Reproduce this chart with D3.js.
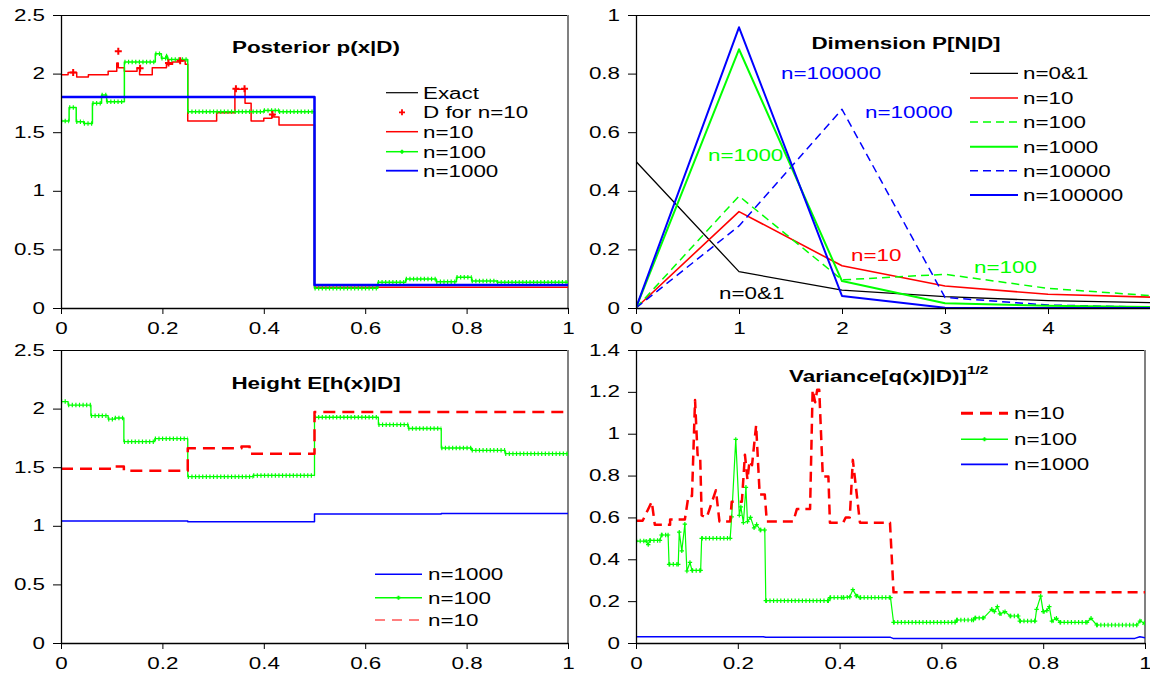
<!DOCTYPE html>
<html><head><meta charset="utf-8">
<script src="https://cdn.jsdelivr.net/npm/d3@7"></script>
<style>body{margin:0;background:#fff}</style>
</head><body><svg id="c" width="1150" height="680"></svg>
<script>
// ---------- DATA ----------
// Posterior p(x|D) (step functions: value holds from x[i] to x[i+1])
const postExactX = [0, 0.5, 1];
const postExactY = [1.8, 0.2, 0.2];
const postN1000X = [0, 0.5, 1];
const postN1000Y = [1.8, 0.196, 0.196];
const postN10X = [0, 0.014, 0.031, 0.054, 0.093, 0.11, 0.113, 0.125, 0.15, 0.155, 0.18, 0.208, 0.22, 0.235, 0.245, 0.25, 0.307, 0.343, 0.363, 0.375, 0.40, 0.416, 0.42, 0.43, 0.5, 1];
const postN10Y = [1.99, 2.01, 1.97, 1.99, 2.02, 2.09, 2.05, 2.02, 2.05, 1.99, 2.05, 2.08, 2.10, 2.11, 2.08, 1.595, 1.667, 1.866, 1.747, 1.595, 1.62, 1.65, 1.63, 1.561, 0.177, 0.177];
const postN100X = [0, 0.016, 0.03, 0.045, 0.062, 0.08, 0.09, 0.125, 0.186, 0.198, 0.207, 0.21, 0.25, 0.40, 0.43, 0.5, 0.625, 0.68, 0.74, 0.78, 0.81, 0.86, 1];
const postN100Y = [1.595, 1.71, 1.59, 1.575, 1.747, 1.817, 1.76, 2.10, 2.17, 2.13, 2.15, 2.12, 1.675, 1.685, 1.675, 0.168, 0.22, 0.247, 0.225, 0.262, 0.23, 0.22, 0.22];
const dataN10X = [0.024, 0.113, 0.156, 0.212, 0.235, 0.345, 0.362, 0.417];
const dataN10Y = [2.01, 2.19, 2.045, 2.09, 2.11, 1.87, 1.87, 1.65];

// Dimension P[N|D]
const dimN = [0, 1, 2, 3, 4, 5];
const dimN01 = [0.5, 0.124, 0.061, 0.039, 0.025, 0.018];
const dimN10 = [0, 0.329, 0.144, 0.075, 0.047, 0.037];
const dimN100 = [0, 0.382, 0.096, 0.115, 0.067, 0.042];
const dimN1000 = [0, 0.883, 0.092, 0.016, 0.008, 0.003];
const dimN10000 = [0, 0.28, 0.678, 0.036, 0.01, 0.003];
const dimN100000 = [0, 0.958, 0.041, 0.001, 0, 0];

// Height E[h(x)|D] (step functions)
const hN1000X = [0, 0.25, 0.5, 0.75, 1];
const hN1000Y = [1.04, 1.035, 1.10, 1.105, 1.105];
const hN100X = [0, 0.014, 0.059, 0.093, 0.106, 0.124, 0.185, 0.25, 0.379, 0.5, 0.626, 0.685, 0.75, 0.81, 0.876, 1];
const hN100Y = [2.06, 2.03, 1.94, 1.91, 1.92, 1.718, 1.743, 1.419, 1.43, 1.926, 1.863, 1.83, 1.664, 1.644, 1.615, 1.615];
const hN10X = [0, 0.106, 0.124, 0.25, 0.356, 0.372, 0.5, 1];
const hN10Y = [1.487, 1.507, 1.47, 1.661, 1.676, 1.615, 1.971, 1.971];

// Variance[q(x)|D]^(1/2) (polylines)
const vN10X = [0, 0.013, 0.031, 0.037, 0.067, 0.067, 0.096, 0.103, 0.11, 0.116, 0.121, 0.126, 0.129, 0.139, 0.157, 0.164, 0.185, 0.188, 0.208, 0.214, 0.219, 0.223, 0.228, 0.236, 0.243, 0.253, 0.257, 0.309, 0.316, 0.342, 0.347, 0.352, 0.356, 0.36, 0.367, 0.378, 0.381, 0.407, 0.412, 0.42, 0.426, 0.44, 0.499, 0.506, 1];
const vN10Y = [0.584, 0.584, 0.675, 0.565, 0.565, 0.59, 0.59, 0.702, 0.702, 1.161, 0.898, 0.898, 0.61, 0.6, 0.73, 0.58, 0.58, 0.675, 0.675, 0.9, 0.78, 0.87, 0.85, 1.04, 0.71, 0.71, 0.58, 0.58, 0.64, 0.64, 1.21, 1.15, 1.21, 1.21, 0.795, 0.795, 0.575, 0.575, 0.6, 0.6, 0.875, 0.575, 0.575, 0.242, 0.242];
const vN100X = [0, 0.02, 0.024, 0.027, 0.047, 0.05, 0.063, 0.065, 0.083, 0.085, 0.09, 0.096, 0.1, 0.106, 0.11, 0.127, 0.129, 0.185, 0.188, 0.196, 0.203, 0.206, 0.211, 0.216, 0.219, 0.225, 0.232, 0.237, 0.244, 0.253, 0.255, 0.378, 0.381, 0.407, 0.42, 0.426, 0.433, 0.44, 0.5, 0.506, 0.627, 0.63, 0.663, 0.666, 0.683, 0.699, 0.704, 0.71, 0.715, 0.725, 0.735, 0.751, 0.754, 0.784, 0.787, 0.795, 0.8, 0.807, 0.812, 0.817, 0.826, 0.833, 0.886, 0.894, 0.905, 0.984, 0.99, 1];
const vN100Y = [0.487, 0.487, 0.47, 0.49, 0.49, 0.516, 0.516, 0.376, 0.376, 0.53, 0.44, 0.568, 0.344, 0.385, 0.347, 0.347, 0.5, 0.5, 0.603, 0.973, 0.61, 0.65, 0.575, 0.744, 0.58, 0.6, 0.55, 0.566, 0.54, 0.54, 0.202, 0.202, 0.217, 0.217, 0.22, 0.255, 0.225, 0.217, 0.217, 0.099, 0.099, 0.11, 0.11, 0.12, 0.12, 0.161, 0.15, 0.174, 0.139, 0.15, 0.129, 0.129, 0.105, 0.105, 0.161, 0.224, 0.15, 0.155, 0.174, 0.105, 0.118, 0.099, 0.099, 0.118, 0.086, 0.086, 0.105, 0.093];
const vN1000X = [0, 0.25, 0.255, 0.5, 0.505, 0.98, 0.99, 1];
const vN1000Y = [0.03, 0.03, 0.027, 0.027, 0.022, 0.022, 0.03, 0.025];

// Tick values
const xTicksUnit = [0, 0.2, 0.4, 0.6, 0.8, 1];
const xTicksDim = [0, 1, 2, 3, 4];
const yTicksPost = [0, 0.5, 1, 1.5, 2, 2.5];
const yTicksDim = [0, 0.2, 0.4, 0.6, 0.8, 1];
const yTicksVar = [0, 0.2, 0.4, 0.6, 0.8, 1, 1.2, 1.4];

// ---------- DRAWING ----------
const RED = "#ff0000", GREEN = "#00ff00", BLUE = "#0000ff", BLACK = "#000000";
const FONT = "'Liberation Sans', Arial, Helvetica, sans-serif";
const SX = 1.4;
const svg = d3.select("#c");

function label(g, x, y, str, o = {}) {
  return g.append("text")
    .attr("transform", `translate(${x},${y}) scale(${SX},1)`)
    .attr("font-family", FONT).attr("font-size", o.size || 16)
    .attr("font-weight", o.weight || "normal")
    .attr("fill", o.fill || "#000")
    .attr("text-anchor", o.anchor || "start")
    .text(str);
}

function makePanel(id, box, xDomain, yDomain, xTicks, yTicks) {
  const x = d3.scaleLinear().domain(xDomain).range([box.x0, box.x1]);
  const y = d3.scaleLinear().domain(yDomain).range([box.y1, box.y0]);
  const g = svg.append("g");
  svg.append("clipPath").attr("id", id).append("rect")
    .attr("x", box.x0).attr("y", box.y0 - 2)
    .attr("width", box.x1 - box.x0).attr("height", box.y1 - box.y0 + 4);
  g.append("line").attr("x1", box.x0).attr("x2", Math.min(box.x1, 1150)).attr("y1", box.y0 + 0.5).attr("y2", box.y0 + 0.5)
    .attr("stroke", "#000").attr("stroke-width", 1);
  g.append("line").attr("x1", box.x1).attr("x2", box.x1).attr("y1", box.y0).attr("y2", box.y1)
    .attr("stroke", "#808080").attr("stroke-width", 2);
  const fmt = d => String(+d.toFixed(1));
  const plot = g.append("g").attr("clip-path", `url(#${id})`);
  const ax = g.append("g").attr("transform", `translate(${box.x0},0)`)
    .call(d3.axisLeft(y).tickValues(yTicks).tickFormat(fmt).tickSize(8).tickSizeOuter(0).tickPadding(8));
  const bx = g.append("g").attr("transform", `translate(0,${box.y1})`)
    .call(d3.axisBottom(x).tickValues(xTicks).tickFormat(fmt).tickSize(6).tickSizeOuter(0).tickPadding(9));
  [ax, bx].forEach(a => {
    a.select(".domain").attr("stroke", "#000").attr("stroke-width", 1.3);
    a.selectAll(".tick line").attr("stroke", "#000");
    a.selectAll("text").attr("font-family", FONT).attr("font-size", 16).attr("fill", "#000")
      .attr("transform", `scale(${SX},1)`)
      .attr("x", function () { const v = d3.select(this).attr("x"); return v == null ? null : +v / SX; });
  });
  return { x, y, g, plot };
}

function plus(g, cx, cy, size, color, w) {
  g.append("path").attr("d", `M${cx - size},${cy}H${cx + size}M${cx},${cy - size}V${cy + size}`)
    .attr("stroke", color).attr("stroke-width", w || 2).attr("fill", "none");
}

function drawLine(p, xs, ys, o) {
  const pts = xs.map((v, i) => [v, ys[i]]);
  const step = o.curve === d3.curveStepAfter;
  const line = d3.line().x(d => p.x(d[0])).y(d => p.y(d[1])).curve(o.curve || d3.curveLinear);
  p.plot.append("path").attr("d", line(pts)).attr("fill", "none")
    .attr("stroke", o.stroke).attr("stroke-width", o.width || 1.5)
    .attr("stroke-dasharray", o.dash || null).attr("stroke-linejoin", "round");
  if (o.markers) {
    // dense "+" markers along the flat parts, thin plain line on the steep parts
    let d = "";
    for (let i = 0; i < pts.length - 1; i++) {
      const x1 = p.x(pts[i][0]), x2 = p.x(pts[i + 1][0]);
      const y1 = p.y(pts[i][1]), y2 = step ? y1 : p.y(pts[i + 1][1]);
      if (x2 - x1 > 0.5 && Math.abs(y2 - y1) < 0.6 * (x2 - x1)) d += `M${x1},${y1}L${x2},${y2}`;
    }
    p.plot.append("path").attr("d", d).attr("fill", "none")
      .attr("stroke", o.stroke).attr("stroke-width", 4.5).attr("stroke-dasharray", "1.2,2.4");
    if (!step) pts.forEach(q => plus(p.plot, p.x(q[0]), p.y(q[1]), 2.2, o.stroke, 1.2));
  }
}

function legendRow(g, lx1, lx2, tx, cy, text, o) {
  if (!o.noLine) {
    g.append("line").attr("x1", lx1).attr("x2", lx2).attr("y1", cy).attr("y2", cy)
      .attr("stroke", o.stroke).attr("stroke-width", o.width || 1.5).attr("stroke-dasharray", o.dash || null);
  }
  if (o.marker) plus(g, (lx1 + lx2) / 2, cy, o.msize || 2.5, o.stroke, 1.8);
  label(g, tx, cy + 6, text);
}

// ---- Panel 1: Posterior ----
const p1 = makePanel("c1", { x0: 61, x1: 568, y0: 15, y1: 308 }, [0, 1], [0, 2.5], xTicksUnit, yTicksPost);
drawLine(p1, postExactX, postExactY, { stroke: BLACK, width: 1.2, curve: d3.curveStepAfter });
drawLine(p1, postN10X, postN10Y, { stroke: RED, width: 1.5, curve: d3.curveStepAfter });
drawLine(p1, postN100X, postN100Y, { stroke: GREEN, width: 1.5, curve: d3.curveStepAfter, markers: true });
drawLine(p1, postN1000X, postN1000Y, { stroke: BLUE, width: 2.5, curve: d3.curveStepAfter });
dataN10X.forEach((v, i) => plus(p1.plot, p1.x(v), p1.y(dataN10Y[i]), 3.5, RED, 2));
label(p1.g, 316, 53, "Posterior p(x|D)", { weight: "bold", anchor: "middle", size: 16 });
legendRow(p1.g, 386, 418, 423, 92.7, "Exact", { stroke: BLACK, width: 1.2 });
legendRow(p1.g, 386, 418, 423, 112.3, "D for n=10", { stroke: RED, noLine: true, marker: true, msize: 3 });
legendRow(p1.g, 386, 418, 423, 131.7, "n=10", { stroke: RED, width: 1.5 });
legendRow(p1.g, 386, 418, 423, 151.7, "n=100", { stroke: GREEN, width: 1.5, marker: true, msize: 2 });
legendRow(p1.g, 386, 418, 423, 170.7, "n=1000", { stroke: BLUE, width: 1.8 });

// ---- Panel 2: Dimension ----
const p2 = makePanel("c2", { x0: 636, x1: 1151, y0: 15, y1: 308 }, [0, 5], [0, 1], xTicksDim, yTicksDim);
drawLine(p2, dimN, dimN01, { stroke: BLACK, width: 1.3 });
drawLine(p2, dimN, dimN10, { stroke: RED, width: 1.6 });
drawLine(p2, dimN, dimN100, { stroke: GREEN, width: 1.5, dash: "8,5" });
drawLine(p2, dimN, dimN10000, { stroke: BLUE, width: 1.5, dash: "8,5" });
drawLine(p2, dimN, dimN1000, { stroke: GREEN, width: 2 });
drawLine(p2, dimN, dimN100000, { stroke: BLUE, width: 2 });
label(p2.g, 906, 49, "Dimension P[N|D]", { weight: "bold", anchor: "middle" });
label(p2.g, 781, 79, "n=100000", { fill: BLUE });
label(p2.g, 865, 118, "n=10000", { fill: BLUE });
label(p2.g, 708, 161, "n=1000", { fill: GREEN });
label(p2.g, 851, 261, "n=10", { fill: RED });
label(p2.g, 974, 273, "n=100", { fill: GREEN });
label(p2.g, 719, 299, "n=0&1", { fill: BLACK });
legendRow(p2.g, 970, 1018, 1023, 73.3, "n=0&1", { stroke: BLACK, width: 1.3 });
legendRow(p2.g, 970, 1018, 1023, 98, "n=10", { stroke: RED, width: 1.6 });
legendRow(p2.g, 970, 1018, 1023, 122, "n=100", { stroke: GREEN, width: 1.5, dash: "8,5" });
legendRow(p2.g, 970, 1018, 1023, 146.7, "n=1000", { stroke: GREEN, width: 2 });
legendRow(p2.g, 970, 1018, 1023, 170.7, "n=10000", { stroke: BLUE, width: 1.5, dash: "8,5" });
legendRow(p2.g, 970, 1018, 1023, 195, "n=100000", { stroke: BLUE, width: 2 });

// ---- Panel 3: Height ----
const p3 = makePanel("c3", { x0: 61, x1: 568, y0: 350, y1: 643 }, [0, 1], [0, 2.5], xTicksUnit, yTicksPost);
drawLine(p3, hN1000X, hN1000Y, { stroke: BLUE, width: 1.5, curve: d3.curveStepAfter });
drawLine(p3, hN100X, hN100Y, { stroke: GREEN, width: 1.3, curve: d3.curveStepAfter, markers: true });
drawLine(p3, hN10X, hN10Y, { stroke: RED, width: 2.5, dash: "12,7", curve: d3.curveStepAfter });
label(p3.g, 316, 389, "Height E[h(x)|D]", { weight: "bold", anchor: "middle" });
legendRow(p3.g, 375, 422, 428, 574.3, "n=1000", { stroke: BLUE, width: 1.5 });
legendRow(p3.g, 375, 422, 428, 597.7, "n=100", { stroke: GREEN, width: 1.5, marker: true, msize: 2 });
legendRow(p3.g, 375, 422, 428, 620, "n=10", { stroke: RED, width: 1.2, dash: "10,7" });

// ---- Panel 4: Variance ----
const p4 = makePanel("c4", { x0: 636, x1: 1145, y0: 350, y1: 643 }, [0, 1], [0, 1.4], xTicksUnit, yTicksVar);
drawLine(p4, vN1000X, vN1000Y, { stroke: BLUE, width: 1.5 });
drawLine(p4, vN100X, vN100Y, { stroke: GREEN, width: 1.2, markers: true });
drawLine(p4, vN10X, vN10Y, { stroke: RED, width: 2.5, dash: "10,6" });
const vt = label(p4.g, 789, 382, "Variance[q(x)|D)]", { weight: "bold" });
vt.append("tspan").attr("font-size", 11).attr("dy", -8).text("1/2");
legendRow(p4.g, 961, 1008, 1014, 413.3, "n=10", { stroke: RED, width: 3, dash: "12,7" });
legendRow(p4.g, 961, 1008, 1014, 439.3, "n=100", { stroke: GREEN, width: 1.5, marker: true, msize: 2 });
legendRow(p4.g, 961, 1008, 1014, 464.3, "n=1000", { stroke: BLUE, width: 1.8 });
</script></body></html>
